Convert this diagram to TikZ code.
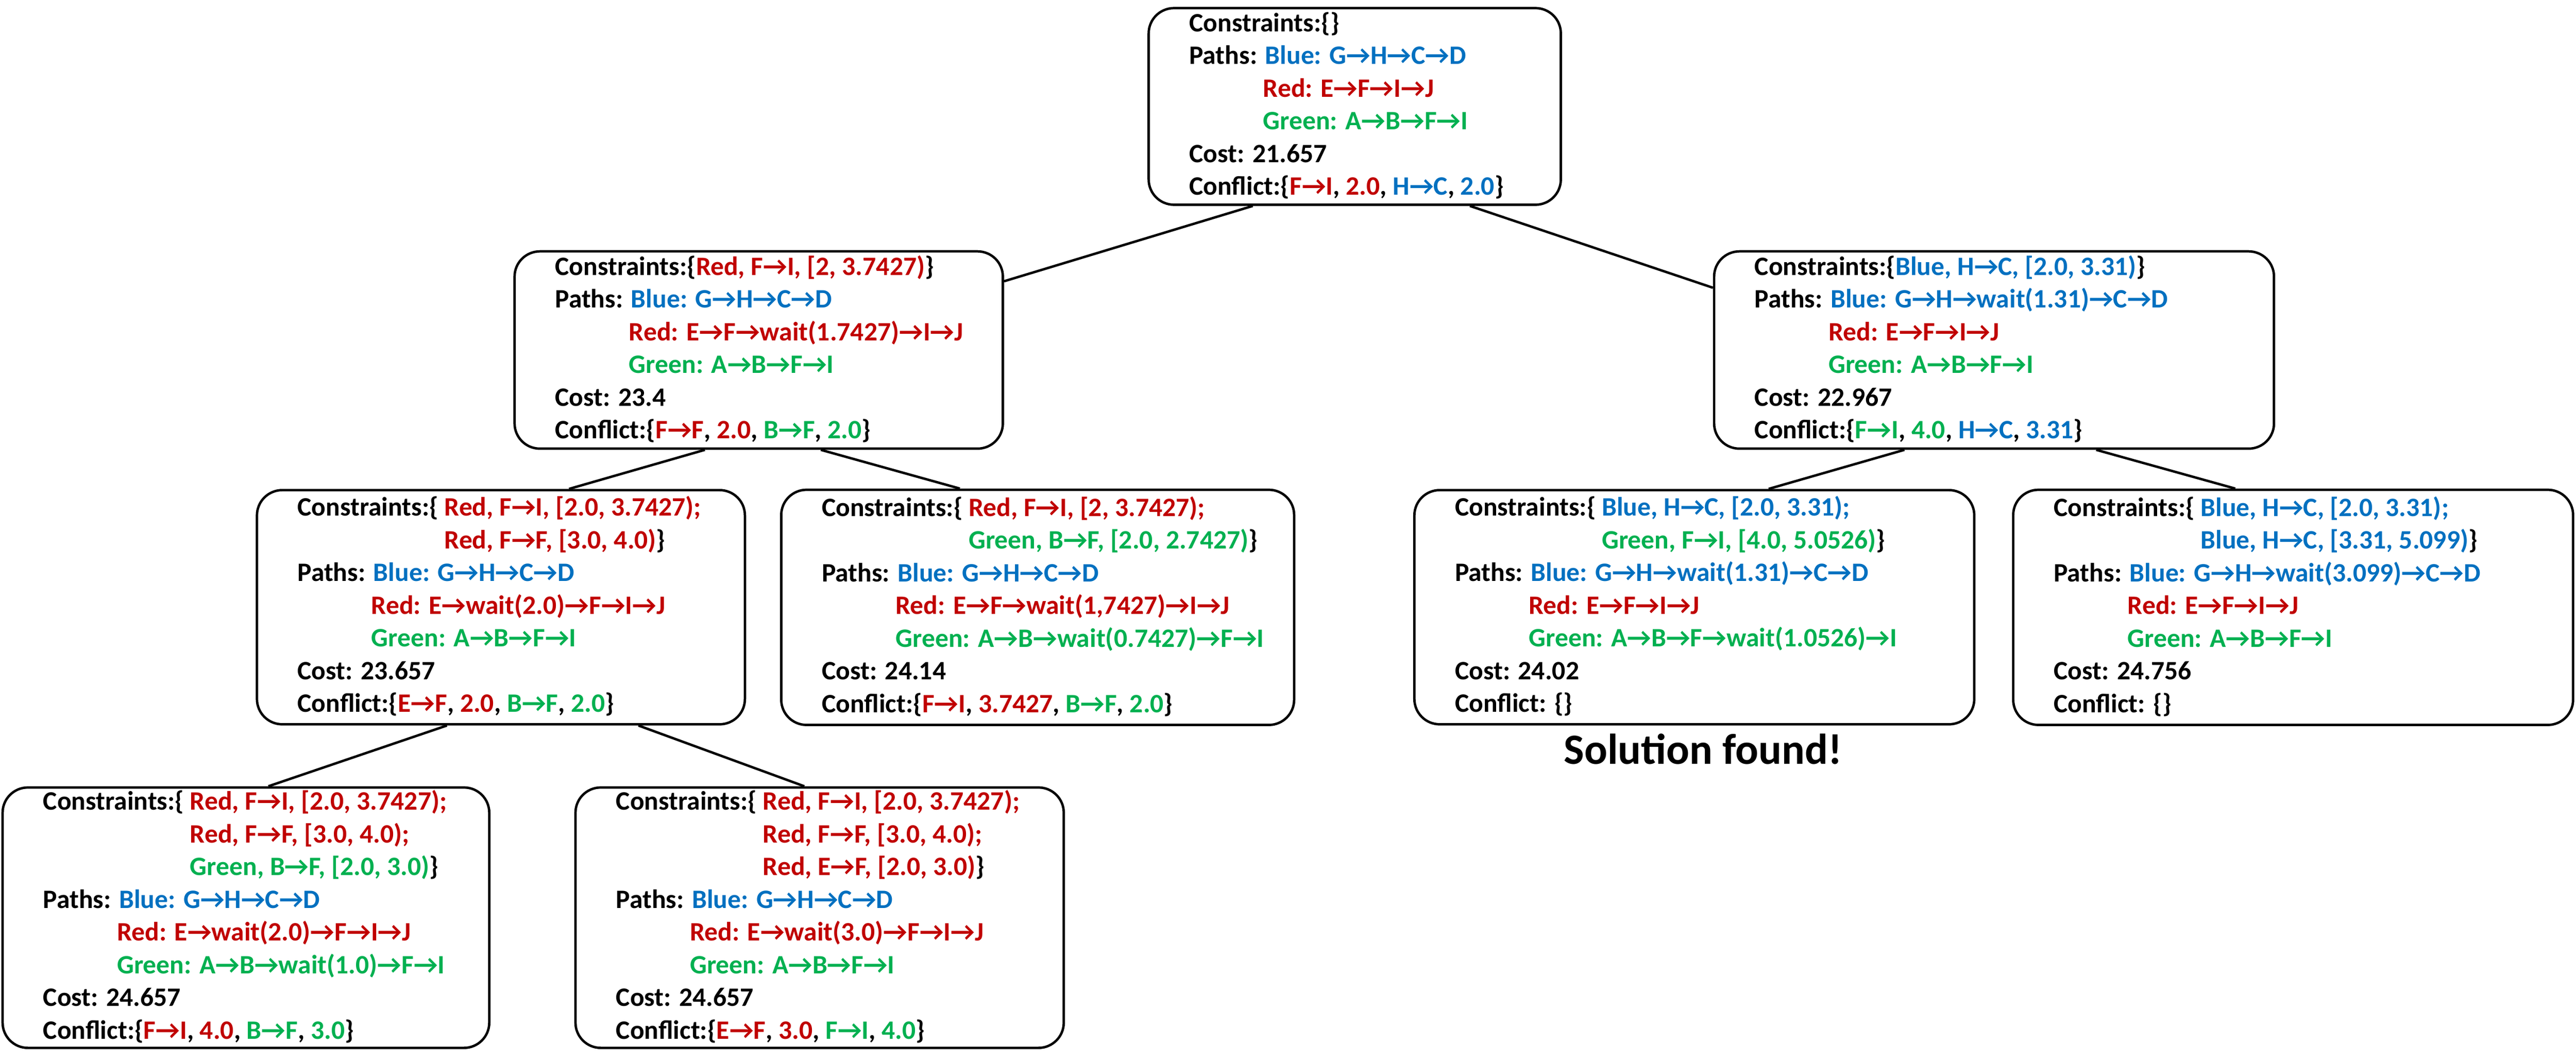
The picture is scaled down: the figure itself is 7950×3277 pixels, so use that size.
\documentclass[tikz,border=0pt]{standalone}
\usepackage{fontspec}
\setmainfont{Carlito}
\usetikzlibrary{calc}
\definecolor{cblue}{HTML}{0070C0}
\definecolor{cred}{HTML}{C00000}
\definecolor{cgreen}{HTML}{00B050}
\newcommand\Bl[1]{\textcolor{cblue}{#1}}
\newcommand\Rd[1]{\textcolor{cred}{#1}}
\newcommand\Gr[1]{\textcolor{cgreen}{#1}}
\newcommand\PI{\phantom{Paths:\ }}
\newcommand\CI{\phantom{Constraints:\{\ }}
\newcommand\FL{\rule{0pt}{7pt}}
\begin{document}
\begin{tikzpicture}[x=0.1pt,y=-0.1pt,
  cbsbox/.style={draw, line width=0.75pt, rounded corners=7.8pt, inner sep=0pt},
  cbstext/.style={anchor=north west, inner sep=0pt, align=left, font=\fontsize{8.2pt}{10.1pt}\selectfont\bfseries},
  link/.style={line width=0.75pt}]
\useasboundingbox (0,0) rectangle (7950,3277);

% boxes
\node[cbsbox, minimum width=127.2pt, minimum height=60.7pt] (root) at (4181,328.5) {};
\node[cbsbox, minimum width=150.7pt, minimum height=60.9pt] (L1) at (2341.5,1080.5) {};
\node[cbsbox, minimum width=172.8pt, minimum height=60.9pt] (R1) at (6154,1080.5) {};
\node[cbsbox, minimum width=150.6pt, minimum height=72.3pt] (LL2) at (1546,1874.5) {};
\node[cbsbox, minimum width=158.3pt, minimum height=72.6pt] (LR2) at (3202.5,1875) {};
\node[cbsbox, minimum width=172.8pt, minimum height=72.3pt] (RL2) at (5229,1874.5) {};
\node[cbsbox, minimum width=172.8pt, minimum height=72.6pt] (RR2) at (7077,1875) {};
\node[cbsbox, minimum width=150.2pt, minimum height=80.4pt] (LLL) at (759,2833) {};
\node[cbsbox, minimum width=150.7pt, minimum height=80.4pt] (LLR) at (2529.5,2833) {};

% texts
\node[cbstext] (rootT) at ([shift={(127,4)}]root.north west) {\FL Constraints:\{\}\\
Paths: \Bl{Blue: G→H→C→D}\\
\PI\Rd{Red: E→F→I→J}\\
\PI\Gr{Green: A→B→F→I}\\
Cost: 21.657\\
Conflict:\{\Rd{F→I}, \Rd{2.0}, \Bl{H→C}, \Bl{2.0}\}};

\node[cbstext] (L1T) at ([shift={(127,5)}]L1.north west) {\FL Constraints:\{\Rd{Red, F→I, [2, 3.7427)}\}\\
Paths: \Bl{Blue: G→H→C→D}\\
\PI\Rd{Red: E→F→wait(1.7427)→I→J}\\
\PI\Gr{Green: A→B→F→I}\\
Cost: 23.4\\
Conflict:\{\Rd{F→F}, \Rd{2.0}, \Gr{B→F}, \Gr{2.0}\}};

\node[cbstext] (R1T) at ([shift={(127,5)}]R1.north west) {\FL Constraints:\{\Bl{Blue, H→C, [2.0, 3.31)}\}\\
Paths: \Bl{Blue: G→H→wait(1.31)→C→D}\\
\PI\Rd{Red: E→F→I→J}\\
\PI\Gr{Green: A→B→F→I}\\
Cost: 22.967\\
Conflict:\{\Gr{F→I}, \Gr{4.0}, \Bl{H→C}, \Bl{3.31}\}};

\node[cbstext] (LL2T) at ([shift={(127,11.5)}]LL2.north west) {\FL Constraints:\{ \Rd{Red, F→I, [2.0, 3.7427);}\\
\CI\Rd{Red, F→F, [3.0, 4.0)}\}\\
Paths: \Bl{Blue: G→H→C→D}\\
\PI\Rd{Red: E→wait(2.0)→F→I→J}\\
\PI\Gr{Green: A→B→F→I}\\
Cost: 23.657\\
Conflict:\{\Rd{E→F}, \Rd{2.0}, \Gr{B→F}, \Gr{2.0}\}};

\node[cbstext] (LR2T) at ([shift={(127,13)}]LR2.north west) {\FL Constraints:\{ \Rd{Red, F→I, [2, 3.7427);}\\
\CI\Gr{Green, B→F, [2.0, 2.7427)}\}\\
Paths: \Bl{Blue: G→H→C→D}\\
\PI\Rd{Red: E→F→wait(1,7427)→I→J}\\
\PI\Gr{Green: A→B→wait(0.7427)→F→I}\\
Cost: 24.14\\
Conflict:\{\Rd{F→I}, \Rd{3.7427}, \Gr{B→F}, \Gr{2.0}\}};

\node[cbstext] (RL2T) at ([shift={(127,11.5)}]RL2.north west) {\FL Constraints:\{ \Bl{Blue, H→C, [2.0, 3.31);}\\
\CI\Gr{Green, F→I, [4.0, 5.0526)}\}\\
Paths: \Bl{Blue: G→H→wait(1.31)→C→D}\\
\PI\Rd{Red: E→F→I→J}\\
\PI\Gr{Green: A→B→F→wait(1.0526)→I}\\
Cost: 24.02\\
Conflict: \{\}};

\node[cbstext] (RR2T) at ([shift={(127,13)}]RR2.north west) {\FL Constraints:\{ \Bl{Blue, H→C, [2.0, 3.31);}\\
\CI\Bl{Blue, H→C, [3.31, 5.099)}\}\\
Paths: \Bl{Blue: G→H→wait(3.099)→C→D}\\
\PI\Rd{Red: E→F→I→J}\\
\PI\Gr{Green: A→B→F→I}\\
Cost: 24.756\\
Conflict: \{\}};

\node[cbstext] (LLLT) at ([shift={(127,1.5)}]LLL.north west) {\FL Constraints:\{ \Rd{Red, F→I, [2.0, 3.7427);}\\
\CI\Rd{Red, F→F, [3.0, 4.0);}\\
\CI\Gr{Green, B→F, [2.0, 3.0)}\}\\
Paths: \Bl{Blue: G→H→C→D}\\
\PI\Rd{Red: E→wait(2.0)→F→I→J}\\
\PI\Gr{Green: A→B→wait(1.0)→F→I}\\
Cost: 24.657\\
Conflict:\{\Rd{F→I}, \Rd{4.0}, \Gr{B→F}, \Gr{3.0}\}};

\node[cbstext] (LLRT) at ([shift={(127,1.5)}]LLR.north west) {\FL Constraints:\{ \Rd{Red, F→I, [2.0, 3.7427);}\\
\CI\Rd{Red, F→F, [3.0, 4.0);}\\
\CI\Rd{Red, E→F, [2.0, 3.0)}\}\\
Paths: \Bl{Blue: G→H→C→D}\\
\PI\Rd{Red: E→wait(3.0)→F→I→J}\\
\PI\Gr{Green: A→B→F→I}\\
Cost: 24.657\\
Conflict:\{\Rd{E→F}, \Rd{3.0}, \Gr{F→I}, \Gr{4.0}\}};

\node[anchor=base, inner sep=0pt, font=\fontsize{13.3pt}{16pt}\selectfont\bfseries] (sol) at (5256,2359) {Solution found!};

% connectors
\draw[link] ([shift={(325,0)}]root.south west) -- ([shift={(0,96)}]L1.north east);
\draw[link] ([shift={(995,0)}]root.south west) -- ([shift={(0,116)}]R1.north west);
\draw[link] ([shift={(591,0)}]L1.south west) -- ([shift={(967,0)}]LL2.north west);
\draw[link] ([shift={(949,0)}]L1.south west) -- ([shift={(555,0)}]LR2.north west);
\draw[link] ([shift={(591,0)}]R1.south west) -- ([shift={(1097,0)}]RL2.north west);
\draw[link] ([shift={(1183,0)}]R1.south west) -- ([shift={(689,0)}]RR2.north west);
\draw[link] ([shift={(590,0)}]LL2.south west) -- ([shift={(824,0)}]LLL.north west);
\draw[link] ([shift={(1181,0)}]LL2.south west) -- ([shift={(710,0)}]LLR.north west);
\end{tikzpicture}
\end{document}
